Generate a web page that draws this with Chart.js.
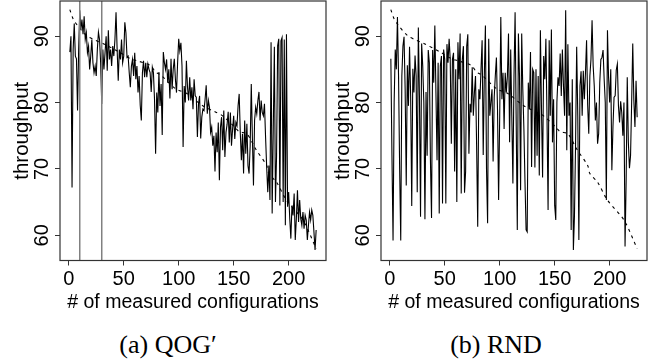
<!DOCTYPE html>
<html>
<head>
<meta charset="utf-8">
<script src="https://cdn.jsdelivr.net/npm/chart.js@4.4.1/dist/chart.umd.min.js"></script>
<style>
  body { margin: 0; background: #fff; width: 657px; height: 362px; position: relative; overflow: hidden; }
  .panel { position: absolute; top: 0; width: 328px; height: 320px; }
  .cap { position: absolute; top: 333px; font-family: "Liberation Serif", serif; font-size: 26px; line-height: 24px; transform: translateX(-50%); white-space: nowrap; color: #000; }
</style>
</head>
<body>
<div class="panel" style="left:0"><canvas id="qog" width="328" height="320"></canvas></div>
<div class="panel" style="left:321px"><canvas id="rnd" width="328" height="320"></canvas></div>
<div class="cap" style="left:168px">(a) QOG′</div>
<div class="cap" style="left:496px">(b) RND</div>
<script>
// throughput per measured configuration, QOG' ordering (x = 1..225)
const qogValues = [
  87.6, 90.0, 67.2, 88.0, 91.9, 87.0, 86.6, 78.8, 88.0, 93.9,
  91.0, 92.5, 90.3, 93.0, 89.5, 90.5, 87.5, 88.5, 85.0, 87.0,
  89.5, 86.0, 84.5, 85.5, 84.0, 88.0, 90.6, 89.5, 86.0, 79.8,
  88.0, 85.0, 87.5, 90.0, 84.8, 90.9, 86.5, 88.0, 85.5, 88.5,
  87.0, 89.5, 93.6, 88.0, 83.3, 88.0, 86.5, 89.5, 86.0, 87.0,
  92.1, 90.5, 86.8, 87.0, 84.5, 82.3, 85.5, 86.5, 84.0, 87.5,
  83.5, 85.5, 81.5, 84.0, 79.6, 77.3, 84.5, 86.3, 83.8, 86.0,
  83.8, 85.8, 85.0, 84.5, 81.6, 85.3, 84.5, 80.5, 72.3, 81.5,
  78.5, 84.6, 79.5, 82.8, 75.1, 87.6, 86.0, 85.0, 86.5, 83.0,
  85.0, 80.6, 86.6, 82.0, 85.0, 86.6, 83.5, 81.5, 86.0, 89.6,
  87.8, 89.0, 85.5, 73.3, 82.5, 80.0, 86.3, 82.3, 80.3, 83.8,
  80.3, 82.3, 79.0, 83.5, 81.0, 80.8, 74.8, 79.8, 81.0, 74.6,
  77.8, 79.0, 78.8, 80.5, 82.6, 78.3, 80.3, 79.3, 75.5, 76.3,
  73.5, 75.0, 69.6, 75.5, 72.5, 77.0, 68.3, 76.3, 77.8, 72.8,
  78.8, 71.8, 75.5, 76.7, 78.6, 74.0, 78.5, 73.5, 76.0, 78.0,
  74.5, 77.0, 76.5, 79.5, 81.3, 75.5, 71.3, 75.3, 69.3, 77.3,
  72.3, 76.8, 70.5, 69.3, 73.5, 82.8, 74.8, 67.5, 77.3, 79.3,
  78.3, 80.3, 81.6, 77.3, 80.3, 78.5, 78.0, 79.8, 74.8, 70.3,
  66.5, 70.5, 65.3, 89.1, 63.3, 76.0, 88.4, 65.0, 72.0, 88.6,
  89.6, 64.5, 89.3, 89.8, 65.0, 89.5, 61.5, 90.3, 64.3, 66.5,
  62.5, 59.5, 64.5, 63.0, 66.3, 59.3, 62.5, 66.8, 62.0, 65.3,
  62.5, 61.5, 63.5, 61.0, 63.0, 62.3, 59.3, 61.5, 63.5, 62.3,
  63.8, 63.0, 60.5, 57.8, 60.8
];

// throughput per measured configuration, random ordering
const rndValues = [
  86.6, 72.0, 59.2, 80.0, 88.0, 85.0, 92.9, 84.0, 70.0, 59.2,
  84.0, 88.5, 89.9, 82.0, 67.5, 85.6, 79.5, 88.4, 81.0, 64.4,
  85.1, 81.5, 87.1, 84.0, 66.5, 91.3, 81.0, 62.8, 88.9, 85.5,
  80.0, 62.4, 81.6, 72.0, 87.9, 86.0, 71.3, 62.6, 87.9, 83.0,
  91.6, 81.5, 71.3, 86.0, 63.3, 85.5, 87.0, 64.8, 88.0, 86.5,
  64.8, 88.8, 86.0, 89.6, 86.5, 73.8, 86.5, 87.5, 69.6, 85.0,
  65.0, 89.1, 83.5, 90.4, 66.3, 86.5, 88.5, 66.4, 69.6, 88.5,
  90.3, 72.3, 79.8, 78.5, 85.3, 78.0, 81.5, 84.0, 73.5, 61.3,
  82.0, 80.5, 85.0, 89.4, 72.1, 84.0, 91.6, 70.0, 61.8, 89.6,
  78.0, 80.0, 82.0, 71.1, 80.8, 84.0, 86.8, 79.0, 65.3, 78.0,
  92.9, 80.5, 84.5, 76.0, 84.5, 81.5, 84.0, 90.4, 74.0, 88.0,
  78.0, 67.8, 84.0, 93.6, 77.0, 60.8, 90.4, 84.0, 66.8, 90.4,
  82.0, 76.0, 68.0, 60.8, 60.5, 83.0, 79.0, 87.6, 70.3, 85.0,
  84.5, 70.2, 85.0, 72.0, 84.0, 69.0, 90.9, 79.0, 68.7, 87.0,
  83.5, 89.6, 78.0, 63.8, 89.4, 78.0, 91.0, 74.0, 80.5, 64.5,
  62.3, 80.0, 83.8, 82.5, 87.4, 81.0, 88.0, 82.5, 78.0, 93.9,
  72.8, 88.8, 78.0, 80.0, 60.8, 83.5, 57.8, 63.0, 73.8, 88.4,
  78.0, 59.3, 82.5, 84.7, 78.0, 84.8, 80.5, 84.5, 89.4, 79.6,
  75.3, 84.0, 86.5, 92.4, 85.5, 82.5, 77.3, 80.0, 73.8, 75.3,
  83.0, 86.5, 86.8, 87.9, 83.5, 80.0, 65.3, 90.9, 83.8, 80.0,
  85.0, 69.8, 76.3, 80.8, 81.0, 84.9, 85.8, 79.5, 77.0, 80.2,
  78.5, 75.0, 80.0, 58.3, 68.3, 83.8, 74.0, 70.1, 72.0, 80.0,
  88.9, 80.3, 76.3, 83.3, 77.8
];

// dashed reference curve (best-first order), read at a few ranks
const rankX   = [1, 4, 8, 16, 24, 31, 47, 56, 62, 74, 79, 84, 97, 108, 121, 133, 139, 151, 155, 162, 170, 180, 182, 189, 198, 213, 225];
const sortedY = [94.0, 92.6, 91.6, 90.1, 89.4, 88.9, 87.5, 86.6, 86.3, 85.6, 84.6, 84.1, 82.1, 81.3, 79.6, 78.6, 78.1, 76.3, 75.6, 75.3, 73.0, 70.5, 69.3, 68.0, 65.3, 62.3, 58.0];

const qogMarkers = [10, 30];   // grey vertical lines in (a)
const xTicks = [0, 50, 100, 150, 200];
const yTicks = [60, 70, 80, 90];
const xMin = -7.96, xMax = 233.96;
const yMin = 56.2, yMax = 95.3;

const sans = 'Liberation Sans, Arial, sans-serif';

const boxPlugin = {
    id: 'box',
    afterDraw(chart) {
        const { ctx, chartArea: a } = chart;
        ctx.save();
        ctx.strokeStyle = '#333';
        ctx.lineWidth = 1.2;
        ctx.strokeRect(a.left, a.top, a.right - a.left, a.bottom - a.top);
        ctx.restore();
    }
};

function makeChart(id, values, markers) {
    const datasets = markers.map(m => ({
        data: [{ x: m, y: yMin }, { x: m, y: yMax }],
        borderColor: '#808080',
        borderWidth: 1.5,
        pointRadius: 0
    }));
    datasets.push({
        data: values.map((v, i) => ({ x: i + 1, y: v })),
        borderColor: '#000',
        borderWidth: 1.1,
        pointRadius: 0,
        tension: 0
    });
    datasets.push({
        data: rankX.map((x, i) => ({ x: x, y: sortedY[i] })),
        borderColor: '#000',
        borderWidth: 1.1,
        borderDash: [3, 4],
        pointRadius: 0,
        tension: 0.3
    });

    new Chart(document.getElementById(id), {
        type: 'line',
        data: { datasets: datasets },
        plugins: [boxPlugin],
        options: {
            responsive: false,
            animation: false,
            layout: { padding: { top: 1, right: 2, bottom: 0, left: 0 } },
            plugins: { legend: { display: false }, tooltip: { enabled: false } },
            scales: {
                x: {
                    type: 'linear',
                    min: xMin,
                    max: xMax,
                    afterBuildTicks: s => { s.ticks = xTicks.map(v => ({ value: v })); },
                    afterFit: s => { s.height = 59.5; s.paddingLeft = 0; s.paddingRight = 0; },
                    ticks: { color: '#000', font: { family: sans, size: 20 }, padding: 2, maxRotation: 0, autoSkip: false },
                    grid: { drawOnChartArea: false, tickLength: 5, color: '#333' },
                    border: { display: false },
                    title: { display: true, text: '# of measured configurations', color: '#000',
                             font: { family: sans, size: 19.5 }, padding: { top: 0, bottom: 6 } }
                },
                y: {
                    type: 'linear',
                    min: yMin,
                    max: yMax,
                    afterBuildTicks: s => { s.ticks = yTicks.map(v => ({ value: v })); },
                    afterFit: s => { s.width = 60; s.paddingTop = 0; s.paddingBottom = 0; },
                    ticks: { color: '#000', font: { family: sans, size: 20 }, padding: 1.5,
                             minRotation: 90, maxRotation: 90, crossAlign: 'center', autoSkip: false },
                    grid: { drawOnChartArea: false, tickLength: 5, color: '#333' },
                    border: { display: false },
                    title: { display: true, text: 'throughput', color: '#000',
                             font: { family: sans, size: 20.5 }, padding: { top: 10, bottom: 0 } }
                }
            }
        }
    });
}

makeChart('qog', qogValues, qogMarkers);
makeChart('rnd', rndValues, []);
</script>
</body>
</html>
